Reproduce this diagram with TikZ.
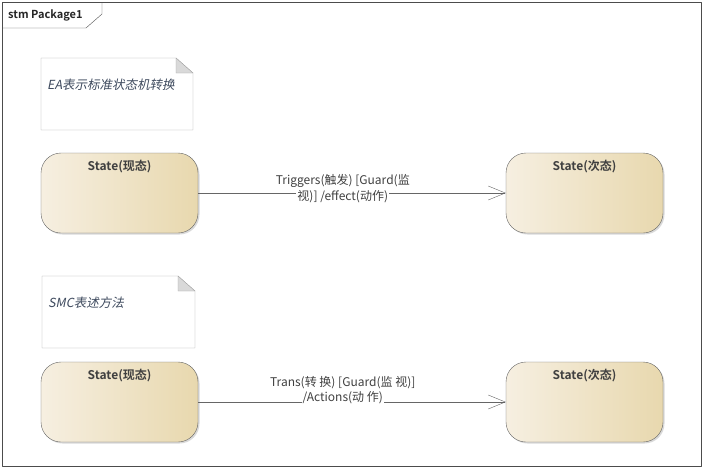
\documentclass[tikz,border=0pt]{standalone}
\usepackage{fontspec}
\setmainfont{Noto Sans CJK SC}[BoldFont={Noto Sans CJK SC Bold}]
\newfontfamily\notefont{Noto Sans CJK SC}[FakeSlant=0.2]
\usetikzlibrary{arrows.meta,positioning,shadows}
\definecolor{stateleft}{HTML}{F6EFE1}
\definecolor{stateright}{HTML}{E8D8AE}
\definecolor{labelgray}{HTML}{404040}
\definecolor{notegray}{HTML}{3E4A5E}
\tikzset{
  state/.style={draw=black!60, rounded corners=20pt, minimum width=157pt, minimum height=80pt,
    left color=stateleft, right color=stateright,
    drop shadow={shadow xshift=1.5pt, shadow yshift=-1.5pt, opacity=0.3}},
  statetitle/.style={font=\fontsize{12}{14}\selectfont\bfseries, text=labelgray, inner sep=1pt},
  trans/.style={draw=black!60, -{Straight Barb[length=17pt,width=14pt]}},
  translabel/.style={font=\fontsize{12}{14}\selectfont, text=labelgray, inner sep=1pt},
  notebox/.style={draw=black!35, fill=white},
  notefold/.style={draw=black!35, fill=black!15},
  notetext/.style={font=\notefont\fontsize{12.5}{14}\selectfont, text=notegray, anchor=west, inner sep=0pt}
}
\begin{document}
\begin{tikzpicture}[x=1pt,y=-1pt,line join=round]
\useasboundingbox (0,0) rectangle (704,469);
% frame
\draw[black!70] (2,2) rectangle (701,466);
\draw[black!70] (2,28) -- (86,28) -- (102,14) -- (102,2);
\node[font=\fontsize{11}{13}\selectfont\bfseries, text=black!85, anchor=west, inner sep=0pt] (frametitle) at (8,15) {stm Package1};
% notes
\foreach \n/\xa/\ya/\xb/\yb/\txt in {1/41/58/193/130/EA表示标准状态机转换, 2/42/276/195/348/SMC表述方法} {
  \draw[notebox] (\xa,\ya) -- (\xb-17,\ya) -- (\xb,\ya+15) -- (\xb,\yb) -- (\xa,\yb) -- cycle;
  \filldraw[notefold] (\xb-17,\ya) -- (\xb-17,\ya+15) -- (\xb,\ya+15) -- cycle;
  \node[notetext] (note\n) at (\xa+6,\ya+27) {\txt};
}
% states
\node[state] (cur1) at (119.5,193) {};
\node[state] (next1) at (584.5,193) {};
\node[state] (cur2) at (119.5,402) {};
\node[state] (next2) at (584.5,402) {};
\node[statetitle, below=6pt of cur1.north] (curtitle1) {State(现态)};
\node[statetitle, below=6pt of next1.north] (nexttitle1) {State(次态)};
\node[statetitle, below=6pt of cur2.north] (curtitle2) {State(现态)};
\node[statetitle, below=6pt of next2.north] (nexttitle2) {State(次态)};
% transitions
\draw[trans] (cur1) -- (next1)
  node[translabel, fill=white, pos=0.47, yshift=-4pt] (trig2) {视)] /effect(动作)};
\node[translabel, above=1pt of trig2] (trig1) {Triggers(触发) [Guard(监};
\draw[trans] (cur2) -- (next2)
  node[translabel, fill=white, pos=0.47, yshift=4pt] (act2) {/Actions(动 作)};
\node[translabel, above=1pt of act2] (act1) {Trans(转 换) [Guard(监 视)]};
\end{tikzpicture}
\end{document}
